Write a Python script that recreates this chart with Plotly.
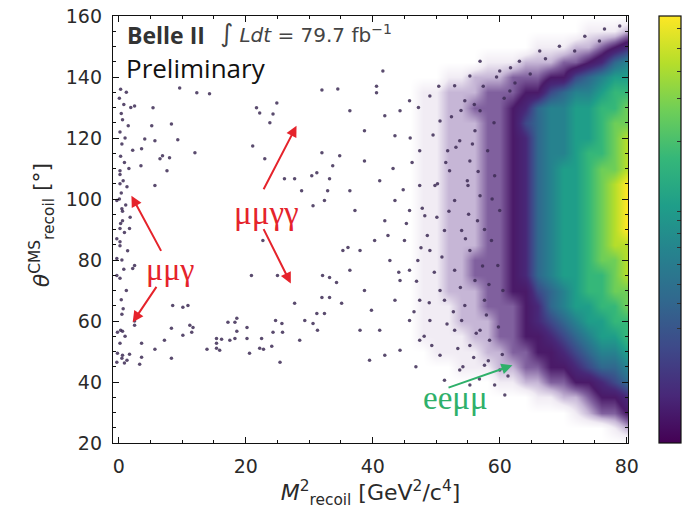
import plotly.graph_objects as go

# ---------------- data ----------------
# dense region as a coarse density grid (level 0 = empty ... 13 = peak)
grid_x = [46, 48, 50, 52, 54, 56, 58, 60, 62, 64, 66, 68, 70, 72, 74, 76, 78, 80]
grid_y = [20, 25, 30, 35, 40, 45, 50, 55, 60, 65, 70, 75, 80, 85, 90, 95, 100,
          105, 110, 115, 120, 125, 130, 135, 140, 145, 150, 155, 160]
density = [
    [0, 0, 0, 0, 0, 0, 0, 0, 0, 0, 0, 0, 0, 0, 0, 0, 0, 0],          # 20
    [0, 0, 0, 0, 0, 0, 0, 0, 0, 0, 0, 0, 0, 0, 0, 0, 1, 2],          # 25
    [0, 0, 0, 0, 0, 0, 0, 0, 0, 0, 0, 0, 0, 1, 2, 3, 3, 4],          # 30
    [0, 0, 0, 0, 0, 0, 0, 0, 0, 0, 1, 1, 2, 2, 3, 4, 4, 5],          # 35
    [0, 0, 0, 0, 0, 0, 0, 1, 1, 2, 2, 3, 3, 4, 4, 5, 6, 7],          # 40
    [0, 0, 0, 0, 1, 1, 1, 2, 2, 3, 3, 4, 4, 5, 6, 7, 7, 8],          # 45
    [0, 0, 1, 1, 1, 1, 2, 2, 3, 3, 4, 4, 5, 6, 7, 8, 8, 9],          # 50
    [0, 1, 1, 1, 1, 2, 2, 3, 3, 4, 4, 5, 6, 7, 8, 9, 9, 10],         # 55
    [0, 1, 1, 1, 2, 2, 2, 3, 3, 4, 5, 6, 7, 8, 9, 9, 10, 10],        # 60
    [0, 1, 1, 1, 2, 2, 3, 3, 3, 4, 5, 7, 8, 9, 9, 10, 10, 11],       # 65
    [0, 1, 1, 2, 2, 2, 3, 3, 4, 4, 6, 7, 8, 9, 10, 10, 11, 11],      # 70
    [0, 1, 1, 2, 2, 3, 3, 3, 4, 5, 7, 8, 9, 9, 10, 10, 11, 12],      # 75
    [0, 1, 1, 2, 2, 3, 3, 3, 4, 5, 7, 8, 9, 9, 10, 11, 11, 12],      # 80
    [0, 1, 1, 2, 2, 2, 3, 3, 4, 5, 7, 8, 9, 9, 10, 11, 12, 12],      # 85
    [0, 1, 1, 2, 2, 2, 3, 3, 4, 5, 7, 8, 9, 9, 10, 11, 12, 13],      # 90
    [0, 1, 1, 2, 2, 2, 3, 3, 4, 5, 7, 8, 9, 9, 10, 11, 12, 13],      # 95
    [0, 1, 1, 2, 2, 2, 3, 3, 4, 5, 7, 8, 9, 9, 10, 11, 12, 13],      # 100
    [0, 1, 1, 2, 2, 2, 3, 3, 4, 5, 7, 8, 9, 9, 10, 11, 12, 13],      # 105
    [0, 1, 1, 2, 2, 2, 3, 3, 4, 5, 7, 8, 9, 9, 10, 11, 11, 12],      # 110
    [0, 1, 1, 2, 2, 2, 3, 3, 4, 5, 7, 8, 8, 9, 10, 10, 11, 12],      # 115
    [0, 1, 1, 2, 2, 2, 3, 3, 4, 5, 7, 8, 8, 9, 9, 10, 11, 12],       # 120
    [0, 1, 1, 2, 2, 2, 3, 3, 4, 6, 7, 8, 8, 9, 9, 10, 11, 11],       # 125
    [0, 1, 1, 2, 2, 3, 3, 3, 4, 5, 7, 8, 8, 9, 9, 10, 10, 11],       # 130
    [0, 1, 1, 2, 2, 2, 3, 3, 3, 4, 4, 6, 7, 8, 8, 9, 10, 10],        # 135
    [0, 0, 0, 1, 1, 2, 2, 2, 3, 3, 3, 4, 4, 6, 7, 8, 9, 9],          # 140
    [0, 0, 0, 0, 0, 0, 1, 1, 1, 2, 2, 2, 3, 3, 4, 5, 7, 8],          # 145
    [0, 0, 0, 0, 0, 0, 0, 0, 0, 0, 1, 1, 1, 2, 2, 3, 4, 5],          # 150
    [0, 0, 0, 0, 0, 0, 0, 0, 0, 0, 0, 0, 0, 0, 1, 1, 1, 2],          # 155
    [0, 0, 0, 0, 0, 0, 0, 0, 0, 0, 0, 0, 0, 0, 0, 0, 0, 0],          # 160
]

# individual sparse events
sparse_x = [
    0.3, 1.2, 0.1, 0.8, 1.9, 0.4, 0.6, 1.5, 0.2, 1.0, 0.5, 2.2, 0.3, 0.9, 1.6, 0.2,
    0.7, 1.3, 0.4, 0.1, 1.1, 0.6, 1.8, 0.3, 0.9, 0.2, 1.4, 0.5, 0.8, 0.2, 1.2, 0.4,
    0.7, 2.5, 0.3, 1.0,
    9.6, 12.3, 14.3, 2.5, 5.4, 5.2, 8.3, 4.1, 5.7, 9.3, 3.6, 6.9, 12.0, 6.5, 3.5, 7.6,
    5.7, 21.7, 22.2, 24.3, 24.9, 23.8, 21.1, 23.0,
    0.2, 1.7, -0.3, 0.2, -0.3, 2.5, 2.2, -0.3, 20.9, 22.7, 25.0, 8.5, 10.1, 10.9, 0.5,
    2.5, 8.3, 11.7, -0.2, 0.6, 10.1, 11.5, 7.2, 3.6, 17.2, 18.6, 18.3, 20.2, 24.7,
    15.4, 16.2, 15.4, 17.5, 18.3, 20.2, 18.6, 0.2, 5.7, 13.9, 15.4, 15.9, 22.2, 22.8,
    24.1, -0.2, 0.6, 1.7, 0.5, 1.3, -0.3, 0.9, 3.3, 3.6, 8.3, 20.6, 25.4,
    0.2, 0.2, -0.3, 0.5, 0.6,
    32.1, 33.2, 34.3, 32.0, 33.2, 27.7, 31.2, 32.4, 35.1, 30.6, 31.3, 29.3, 25.7, 11.2,
    22.5, 24.3, 25.8, 28.5, 8.0, 32.0, 34.8, 33.7, 30.4, 31.2, 33.2, 27.7, 26.1, 28.8,
    32.9, 30.6, 32.4, 35.3, 36.1,
    32.0, 34.5, 40.6, 40.6, 41.6,
    41.1, 43.5, 41.9, 45.0, 42.7, 45.8, 47.4, 50.6, 49.0, 51.3, 52.9, 52.1, 55.3, 53.7,
    56.1, 56.9, 54.5, 50.6, 47.4, 44.3, 45.8, 47.4, 50.6, 52.9, 54.5, 56.1, 55.3, 56.5,
    56.9, 52.9, 51.3, 49.0, 43.5, 41.1, 39.5, 44.3, 53.7, 55.3, 56.9, 57.6, 58.4, 51.3,
    38.7, 38.0, 36.4, 37.2, 38.7, 43.5, 45.8, 49.0, 52.9, 55.3, 56.9,
    58.1, 59.2, 60.0, 58.7, 59.7, 60.5, 57.6, 54.0, 55.0, 51.8, 49.8, 48.2, 47.1, 54.0,
    55.3, 59.2, 60.8, 60.0, 61.6, 60.0, 63.1, 66.3, 69.4, 73.4, 76.5, 78.9, 75.7, 71.8,
    36.4, 39.8, 41.9, 38.0, 44.3, 45.8, 40.3, 47.4, 38.7, 36.4, 41.9,
    46.2, 47.8, 49.5, 50.9, 52.4, 53.8, 55.1, 56.6, 57.9, 46.9, 48.6, 50.2, 51.7, 53.1,
    54.6, 56.0, 57.3, 58.8, 45.3, 47.2, 48.9, 50.4, 52.0, 53.4, 54.9, 56.3, 57.6, 59.1,
    58.3, 55.7, 53.9, 51.5, 49.7, 48.1, 46.5, 44.8, 59.8, 60.4, 61.3, 58.2, 56.8, 55.9,
    54.2, 52.7, 50.1, 47.6, 45.9, 43.2, 42.4, 44.1, 46.8, 49.3, 60.7, 59.5, 57.4, 62.4,
    61.7, 64.8, 67.2,
]
sparse_y = [
    136, 135, 133, 131, 130, 128, 126, 124, 122, 120, 118, 116, 114, 112, 110, 108,
    106, 104, 102, 100, 98, 96, 94, 92, 89, 86, 83, 80, 77, 74, 70, 67,
    64, 60, 57, 55,
    136.4, 134.8, 134.5, 130.5, 129.9, 124.0, 124.6, 119.7, 119.1, 119.4, 116.5, 114.2,
    115.2, 113.2, 110.9, 109.3, 104.4, 129.9, 128.2, 127.9, 131.5, 125.0, 117.4, 113.2,
    90.3, 90.3, 87.0, 84.7, 80.5, 78.2, 77.2, 74.9, 74.9, 86.4, 74.9, 65.1, 64.5, 65.1,
    62.2, 58.6, 57.6, 57.9, 56.3, 56.6, 55.3, 56.3, 53.7, 52.7, 59.6, 60.9, 59.6, 57.9,
    60.2, 54.3, 54.0, 52.7, 53.7, 54.3, 54.3, 56.6, 52.7, 50.7, 50.7, 51.1, 50.4, 51.1,
    50.7, 51.7, 49.4, 48.8, 49.1, 47.8, 47.1, 46.5, 46.2, 45.8, 48.1, 47.8, 49.4, 46.5,
    109.3, 105.0, 99.5, 96.8, 92.9,
    74.9, 74.3, 72.6, 67.7, 67.7, 65.8, 62.5, 62.5, 65.8, 59.2, 57.0, 60.2, 59.2, 58.6,
    54.3, 56.3, 56.3, 53.7, 113.5, 115.2, 114.2, 110.9, 107.6, 108.6, 106.6, 106.6,
    106.6, 102.7, 102.7, 97.8, 99.5, 83.1, 84.1,
    135.7, 136.1, 137.0, 134.8, 142.0,
    106.0, 99.5, 92.9, 86.4, 79.8, 76.6, 66.8, 70.0, 83.1, 89.7, 99.5, 109.3, 112.5,
    119.1, 122.4, 128.9, 132.2, 125.6, 115.8, 128.9, 60.2, 53.7, 48.8, 57.0, 65.1, 73.3,
    83.1, 92.9, 101.1, 76.6, 66.8, 60.2, 66.8, 57.0, 47.1, 50.4, 43.9, 52.0, 57.0, 45.5,
    53.7, 40.6, 70.0, 83.1, 102.7, 96.2, 112.5, 120.7, 132.2, 133.8, 137.1, 140.3, 145.2,
    115.8, 107.6, 96.2, 86.4, 78.2, 70.0, 66.8, 89.7, 104.4, 115.8, 104.4, 94.5, 79.8,
    60.2, 39.0, 39.0, 35.7, 43.9, 135.4, 142.0, 145.2, 148.5, 150.1, 153.4, 155.7, 156.7,
    151.8, 148.5,
    76.6, 63.5, 48.8, 57.0, 73.3, 96.2, 86.4, 104.4, 122.4, 128.9, 127.3,
    112, 97, 121, 81, 127, 71, 95, 109, 62, 73, 88, 105, 59, 117,
    87, 131, 78, 100, 92, 130, 66, 137, 96, 51, 106, 56, 90, 125,
    72, 118, 129, 112, 76, 55, 63, 103, 58, 49, 42, 47, 41, 48,
    45, 63, 94, 84, 120, 110, 88, 76, 45, 52, 133, 140, 137, 138,
    143, 141, 146,
]

x_ticks = [0, 20, 40, 60, 80]
y_ticks = [20, 40, 60, 80, 100, 120, 140, 160]

# ---------------- styling ----------------
dens_scale = [
    [0 / 13, "#ffffff"], [1 / 13, "#f1ecf4"], [2 / 13, "#c6b6d6"], [3 / 13, "#80609e"],
    [4 / 13, "#4a1a68"], [5 / 13, "#482878"], [6 / 13, "#3e4989"], [7 / 13, "#31688e"],
    [8 / 13, "#26828e"], [9 / 13, "#1f9e89"], [10 / 13, "#35b779"], [11 / 13, "#6ece58"],
    [12 / 13, "#b5de2b"], [13 / 13, "#fde725"],
]

fig = go.Figure()
fig.add_trace(go.Heatmap(
    x=grid_x, y=grid_y, z=density, zmin=0, zmax=13, zsmooth="best",
    colorscale=dens_scale, showscale=False, hoverinfo="skip",
))
fig.add_trace(go.Scatter(
    x=sparse_x, y=sparse_y, mode="markers",
    marker=dict(size=3.5, color="#3d2b55", opacity=0.85, line=dict(width=0)),
    hoverinfo="skip", showlegend=False,
))
# colour bar (viridis)
fig.add_trace(go.Scatter(
    x=[None], y=[None], mode="markers", showlegend=False, hoverinfo="skip",
    marker=dict(color=[0], cmin=0, cmax=1, colorscale="Viridis", showscale=True,
                colorbar=dict(x=(659 - 113) / 515, xanchor="left", y=0.5, yanchor="middle",
                              len=1.0, lenmode="fraction", thickness=22,
                              xpad=0, ypad=0,
                              outlinewidth=1.2, outlinecolor="#111",
                              ticks="inside", ticklen=4, tickcolor="#333",
                              showticklabels=False,
                              tickvals=[0.269, 0.326, 0.372, 0.419, 0.457, 0.49, 0.52,
                                        0.543, 0.707, 0.806, 0.871, 0.925, 0.97])),
))

axis_common = dict(
    showline=True, linecolor="#111", linewidth=1.4, mirror="ticks",
    ticks="inside", ticklen=6, tickwidth=1, tickcolor="#111",
    showgrid=False, zeroline=False, automargin=False,
    tickfont=dict(family="DejaVu Sans", size=19, color="#2a2a2a"),
    minor=dict(dtick=5, ticks="inside", ticklen=3, tickcolor="#111", showgrid=False),
    ticklabelstandoff=6,
)

fig.update_xaxes(range=[-0.9, 80.2], tickvals=x_ticks, **axis_common,
                 title=dict(text="<i>M</i><sup>2</sup><sub>recoil</sub> [GeV<sup>2</sup>/c<sup>4</sup>]",
                            font=dict(family="DejaVu Sans", size=22, color="#2a2a2a"), standoff=8))
fig.update_yaxes(range=[20, 160], tickvals=y_ticks, **axis_common)

red = "#e5232b"
green = "#2fb06a"
annos = []
# y-axis title placed explicitly
annos.append(dict(xref="paper", yref="paper", x=-0.138, y=0.51, xanchor="center", yanchor="middle",
                  textangle=-90, showarrow=False,
                  text="<i>θ</i><sup>CMS</sup><sub>recoil</sub> [°]",
                  font=dict(family="DejaVu Sans", size=22, color="#2a2a2a")))
# text labels
annos.append(dict(xref="paper", yref="paper", x=0.023, y=0.955, xanchor="left", yanchor="middle",
                  text="<b>Belle II</b>", showarrow=False,
                  font=dict(family="Open Sans", size=23, color="#333")))
annos.append(dict(xref="paper", yref="paper", x=0.204, y=0.96, xanchor="left", yanchor="middle",
                  text="<span style='font-size:25px'>∫</span> <i>Ldt</i> = 79.7 fb<sup>−1</sup>",
                  showarrow=False, font=dict(family="DejaVu Sans", size=20, color="#444")))
annos.append(dict(xref="paper", yref="paper", x=0.021, y=0.878, xanchor="left", yanchor="middle",
                  text="Preliminary", showarrow=False,
                  font=dict(family="Open Sans", size=26, color="#111")))
annos.append(dict(x=8.0, y=77.2, text="μμγ", showarrow=False,
                  font=dict(family="Liberation Serif", size=32, color=red)))
annos.append(dict(x=23.3, y=95.5, text="μμγγ", showarrow=False,
                  font=dict(family="Liberation Serif", size=33, color=red)))
annos.append(dict(x=53.1, y=34.7, text="eeμμ", showarrow=False,
                  font=dict(family="Liberation Serif", size=33, color=green)))
# arrows (head at x,y ; tail at ax,ay)
arrows = [
    (2.0, 101.1, 6.8, 82.5, red),
    (2.2, 59.6, 6.1, 71.7, red),
    (28.0, 124.0, 22.7, 102.7, red),
    (27.1, 72.3, 22.7, 90.6, red),
    (62.0, 45.5, 51.7, 38.0, green),
]
for hx, hy, tx, ty, c in arrows:
    annos.append(dict(x=hx, y=hy, ax=tx, ay=ty, xref="x", yref="y", axref="x", ayref="y",
                      text="", showarrow=True, arrowhead=2, arrowsize=1.1, arrowwidth=2,
                      arrowcolor=c, standoff=0, startstandoff=0))

fig.update_layout(
    width=690, height=512,
    margin=dict(l=113, r=62, t=16, b=69, autoexpand=False),
    plot_bgcolor="white", paper_bgcolor="white",
    showlegend=False, annotations=annos,
)

fig.write_html("out.html")
